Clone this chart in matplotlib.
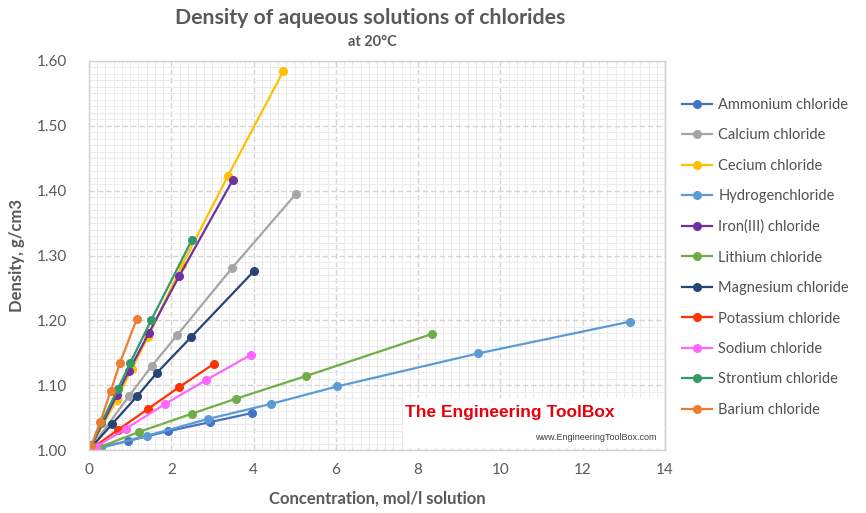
import matplotlib
matplotlib.use("Agg")
import matplotlib.pyplot as plt
from matplotlib.ticker import MultipleLocator, FormatStrFormatter
from matplotlib.patches import Rectangle

plt.rcParams['font.family'] = ['Lato', 'DejaVu Sans']

# ---- data ----
ammonium_x = [0.19, 0.95, 1.92, 2.94, 3.96]
ammonium_y = [1.003, 1.014, 1.029, 1.043, 1.057]

calcium_x = [0.09, 0.97, 1.53, 2.14, 3.48, 5.03]
calcium_y = [1.007, 1.083, 1.130, 1.177, 1.281, 1.395]

cecium_x = [0.06, 0.67, 1.04, 1.43, 2.26, 3.38, 4.72]
cecium_y = [1.007, 1.077, 1.125, 1.174, 1.285, 1.423, 1.584]

hydrogen_x = [0.28, 1.41, 2.90, 4.42, 6.03, 9.46, 13.15]
hydrogen_y = [1.003, 1.022, 1.048, 1.071, 1.098, 1.149, 1.198]

iron_x = [0.06, 0.68, 0.97, 1.46, 2.19, 3.50]
iron_y = [1.007, 1.085, 1.122, 1.181, 1.268, 1.417]

lithium_x = [0.24, 1.22, 2.50, 3.57, 5.27, 8.34]
lithium_y = [1.004, 1.028, 1.056, 1.079, 1.114, 1.179]

magnesium_x = [0.10, 0.56, 1.17, 1.65, 2.48, 4.01]
magnesium_y = [1.007, 1.040, 1.083, 1.119, 1.174, 1.276]

potassium_x = [0.13, 0.70, 1.43, 2.19, 3.04]
potassium_y = [1.005, 1.031, 1.063, 1.097, 1.133]

sodium_x = [0.17, 0.90, 1.85, 2.85, 3.94]
sodium_y = [1.005, 1.033, 1.071, 1.108, 1.147]

strontium_x = [0.06, 0.30, 0.70, 1.00, 1.51, 2.50]
strontium_y = [1.007, 1.042, 1.094, 1.134, 1.200, 1.324]

barium_x = [0.05, 0.27, 0.53, 0.75, 1.16]
barium_y = [1.006, 1.043, 1.091, 1.134, 1.202]

names = ["Ammonium chloride", "Calcium chloride", "Cecium chloride",
         "Hydrogenchloride", "Iron(III) chloride", "Lithium chloride",
         "Magnesium chloride", "Potassium chloride", "Sodium chloride",
         "Strontium chloride", "Barium chloride"]
xs = [ammonium_x, calcium_x, cecium_x, hydrogen_x, iron_x, lithium_x,
      magnesium_x, potassium_x, sodium_x, strontium_x, barium_x]
ys = [ammonium_y, calcium_y, cecium_y, hydrogen_y, iron_y, lithium_y,
      magnesium_y, potassium_y, sodium_y, strontium_y, barium_y]
colors = ["#4472C4", "#A5A5A5", "#FFC000", "#5B9BD5", "#7030A0", "#70AD47",
          "#264478", "#FF3300", "#FF66FF", "#339966", "#ED7D31"]

xticks = [0, 2, 4, 6, 8, 10, 12, 14]
yticks = [1.00, 1.10, 1.20, 1.30, 1.40, 1.50, 1.60]

# ---- figure ----
fig = plt.figure(figsize=(8.66, 5.13), dpi=100)
ax = fig.add_axes([89/866, 1-450/513, (665-89)/866, (450-61)/513])

for x, y, n, c in zip(xs, ys, names, colors):
    ax.plot(x, y, color=c, lw=1.6, marker='o', ms=5.5, label=n)

ax.set_xlim(0, 14)
ax.set_ylim(1.0, 1.6)
ax.set_xticks(xticks)
ax.set_yticks(yticks)
ax.yaxis.set_major_formatter(FormatStrFormatter('%.2f'))
ax.xaxis.set_minor_locator(MultipleLocator(0.2))
ax.yaxis.set_minor_locator(MultipleLocator(0.01))
ax.grid(which='major', color='#D4D4D4', lw=1.0, ls=(0, (4, 2)))
ax.grid(which='minor', color='#EBEBEB', lw=0.7)
ax.set_axisbelow(True)
ax.tick_params(which='both', length=0, colors='#595959', labelsize=11)
ax.tick_params(axis='y', pad=16)
ax.tick_params(axis='x', pad=9)
for s in ax.spines.values():
    s.set_color('#D0D0D0')
    s.set_linewidth(1.0)

ax.set_xlabel("Concentration, mol/l solution", fontsize=12, fontweight='bold',
              color='#595959', labelpad=10)
ax.set_ylabel("Density, g/cm3", fontsize=12, fontweight='bold',
              color='#595959', labelpad=8)

fig.text(370/866, 1-18/513, "Density of aqueous solutions of chlorides",
         ha='center', va='center', fontsize=15.3, fontweight='bold', color='#595959')
fig.text(372/866, 1-42/513, "at 20°C", ha='center', va='center',
         fontsize=10.5, fontweight='bold', color='#595959')

# watermark
ax.add_patch(Rectangle((403/866, 1-448/513), (664-403)/866, 50/513,
                       transform=fig.transFigure, facecolor='white',
                       edgecolor='none', zorder=1.5))
fig.text(405/866, 1-413/513, "The Engineering ToolBox", ha='left', va='center',
         fontsize=12.5, fontweight='bold', color='#E8000B',
         family=['Liberation Sans', 'DejaVu Sans'], zorder=5)
fig.text(657/866, 1-437/513, "www.EngineeringToolBox.com", ha='right', va='center',
         fontsize=6.5, color='#404040', family=['Liberation Sans', 'DejaVu Sans'], zorder=5)

fig.legend(loc='upper left', bbox_to_anchor=(676/866, 1-92/513), frameon=False,
           fontsize=10.5, handlelength=2.1, handletextpad=0.4, labelspacing=1.13,
           labelcolor='#505050', borderaxespad=0)

fig.savefig("out.png", dpi=100, facecolor='white')
